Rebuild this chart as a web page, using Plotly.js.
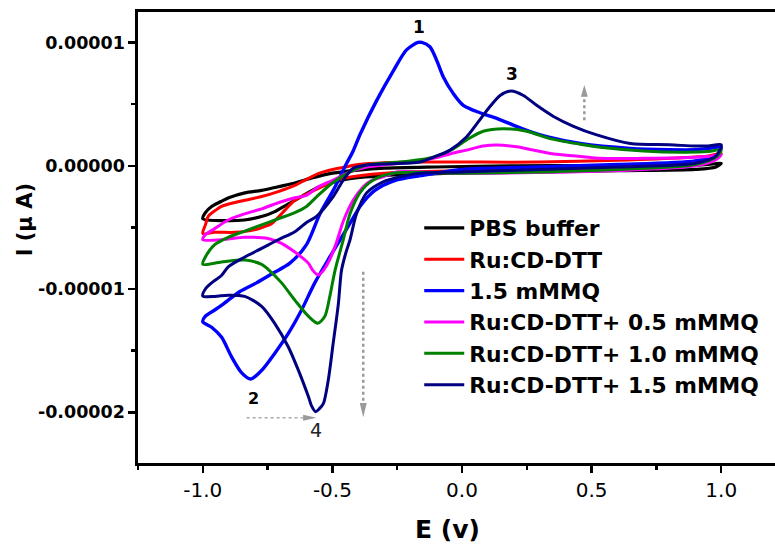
<!DOCTYPE html>
<html>
<head>
<meta charset="utf-8">
<script src="https://cdn.plot.ly/plotly-3.0.1.min.js"></script>
<style>
html,body{margin:0;padding:0;overflow:hidden;background:#fff;}
#chart{width:800px;height:548px;}
</style>
</head>
<body>
<div id="chart"></div>
<script>
// Current values are read in units of 1e-5 A
const UNIT = 1e-5;

const seriesNames = ["PBS buffer", "Ru:CD-DTT", "1.5 mMMQ", "Ru:CD-DTT+ 0.5 mMMQ", "Ru:CD-DTT+ 1.0 mMMQ", "Ru:CD-DTT+ 1.5 mMMQ"];

// PBS buffer (forward sweep then reverse sweep)
const pbsE = [-1.0,-0.99,-0.966,-0.93,-0.9,-0.838,-0.773,-0.709,-0.645,-0.58,-0.5,-0.4,-0.3,-0.1,0.2,0.5,0.8,0.95,1.0,
              0.98,0.9,0.6,0.3,0.0,-0.3,-0.45,-0.55,-0.62,-0.67,-0.72,-0.77,-0.84,-0.92,-1.0];
const pbsI = [-0.43,-0.38,-0.33,-0.29,-0.26,-0.22,-0.20,-0.17,-0.14,-0.10,-0.06,-0.035,-0.02,-0.01,0.0,0.0,0.0,0.01,0.02,
              -0.01,-0.03,-0.04,-0.05,-0.06,-0.08,-0.11,-0.17,-0.25,-0.31,-0.37,-0.41,-0.44,-0.445,-0.43];

// Ru:CD-DTT
const ruE = [-1.0,-0.99,-0.979,-0.95,-0.928,-0.88,-0.838,-0.773,-0.709,-0.645,-0.6,-0.55,-0.5,-0.45,-0.4,-0.3,-0.15,0.0,0.3,0.6,0.85,0.95,1.0,
             0.98,0.9,0.6,0.3,0.0,-0.3,-0.45,-0.52,-0.58,-0.645,-0.683,-0.71,-0.735,-0.77,-0.8,-0.876,-0.954,-1.0];
const ruI = [-0.55,-0.48,-0.41,-0.36,-0.33,-0.30,-0.28,-0.25,-0.21,-0.16,-0.11,-0.06,-0.03,-0.01,0.01,0.025,0.03,0.03,0.03,0.045,0.065,0.08,0.10,
             0.06,0.02,-0.01,-0.03,-0.04,-0.06,-0.10,-0.15,-0.21,-0.28,-0.36,-0.42,-0.47,-0.50,-0.52,-0.54,-0.54,-0.55];

// 1.5 mMMQ
const mmqE = [-1.0,-0.99,-0.954,-0.92,-0.857,-0.793,-0.728,-0.664,-0.6,-0.548,-0.497,-0.445,-0.42,-0.392,-0.329,-0.265,-0.214,-0.17,-0.155,-0.124,-0.098,-0.072,-0.034,0.005,0.069,0.134,0.198,0.263,0.327,0.456,0.649,0.8,0.9,0.95,1.0,
              0.98,0.9,0.6,0.3,0.0,-0.16,-0.26,-0.336,-0.39,-0.43,-0.47,-0.51,-0.568,-0.619,-0.67,-0.722,-0.773,-0.815,-0.85,-0.889,-0.928,-0.966,-1.0];
const mmqI = [-1.265,-1.22,-1.17,-1.12,-1.02,-0.95,-0.87,-0.79,-0.64,-0.39,-0.2,0.02,0.12,0.26,0.53,0.77,0.94,1.0,1.0,0.965,0.857,0.72,0.587,0.49,0.43,0.384,0.33,0.276,0.235,0.18,0.14,0.13,0.13,0.14,0.15,
              0.08,0.04,0.01,-0.01,-0.03,-0.08,-0.12,-0.20,-0.32,-0.46,-0.60,-0.74,-0.95,-1.17,-1.36,-1.52,-1.66,-1.73,-1.68,-1.55,-1.39,-1.31,-1.265];

// Ru:CD-DTT + 0.5 mMMQ
const m05E = [-1.0,-0.99,-0.954,-0.902,-0.838,-0.773,-0.709,-0.645,-0.6,-0.561,-0.497,-0.432,-0.368,-0.304,-0.24,-0.11,-0.04,0.018,0.082,0.134,0.211,0.275,0.34,0.468,0.533,0.7,0.85,0.95,1.0,
              0.98,0.9,0.7,0.4,0.0,-0.16,-0.252,-0.304,-0.35,-0.381,-0.42,-0.458,-0.484,-0.51,-0.535,-0.555,-0.575,-0.593,-0.62,-0.645,-0.696,-0.748,-0.838,-0.928,-1.0];
const m05I = [-0.60,-0.56,-0.51,-0.44,-0.39,-0.35,-0.30,-0.26,-0.24,-0.18,-0.116,-0.05,-0.01,0.006,0.02,0.06,0.10,0.127,0.16,0.168,0.154,0.127,0.10,0.073,0.06,0.06,0.065,0.075,0.09,
              0.05,0.0,-0.03,-0.05,-0.06,-0.05,-0.05,-0.09,-0.12,-0.17,-0.28,-0.45,-0.62,-0.76,-0.85,-0.886,-0.85,-0.79,-0.74,-0.70,-0.63,-0.59,-0.58,-0.60,-0.60];

// Ru:CD-DTT + 1.0 mMMQ
const m10E = [-1.0,-0.99,-0.954,-0.902,-0.838,-0.773,-0.709,-0.645,-0.6,-0.56,-0.5,-0.432,-0.368,-0.304,-0.24,-0.11,-0.04,0.018,0.082,0.16,0.25,0.34,0.468,0.533,0.7,0.85,0.95,1.0,
              0.98,0.9,0.6,0.3,0.0,-0.265,-0.342,-0.394,-0.432,-0.458,-0.49,-0.51,-0.529,-0.557,-0.593,-0.645,-0.696,-0.748,-0.773,-0.838,-0.928,-1.0];
const m10I = [-0.80,-0.74,-0.64,-0.58,-0.53,-0.48,-0.43,-0.38,-0.33,-0.25,-0.14,-0.05,0.006,0.02,0.03,0.07,0.13,0.21,0.28,0.30,0.28,0.22,0.17,0.15,0.12,0.11,0.115,0.13,
              0.07,0.01,-0.03,-0.05,-0.06,-0.06,-0.116,-0.22,-0.39,-0.60,-0.85,-1.06,-1.22,-1.278,-1.22,-1.09,-0.95,-0.84,-0.80,-0.765,-0.78,-0.80];

// Ru:CD-DTT + 1.5 mMMQ
const m15E = [-1.0,-0.99,-0.966,-0.928,-0.902,-0.838,-0.773,-0.709,-0.645,-0.6,-0.561,-0.497,-0.458,-0.42,-0.368,-0.304,-0.162,-0.11,-0.046,0.018,0.057,0.108,0.147,0.189,0.237,0.288,0.353,0.43,0.52,0.649,0.8,0.9,0.95,1.0,
              0.98,0.9,0.6,0.3,0.0,-0.162,-0.24,-0.304,-0.368,-0.407,-0.432,-0.45,-0.465,-0.477,-0.497,-0.516,-0.535,-0.55,-0.565,-0.58,-0.593,-0.631,-0.67,-0.722,-0.773,-0.838,-0.902,-0.954,-1.0];
const m15I = [-1.057,-1.0,-0.95,-0.89,-0.82,-0.74,-0.67,-0.60,-0.535,-0.46,-0.41,-0.25,-0.116,-0.02,0.006,0.014,0.03,0.07,0.127,0.235,0.34,0.48,0.57,0.606,0.57,0.49,0.40,0.32,0.25,0.18,0.17,0.16,0.16,0.17,
              0.08,0.02,-0.01,-0.03,-0.05,-0.06,-0.09,-0.13,-0.22,-0.39,-0.60,-0.72,-0.85,-1.12,-1.44,-1.74,-1.93,-1.97,-1.995,-1.95,-1.87,-1.66,-1.47,-1.28,-1.14,-1.06,-1.05,-1.06,-1.057];

const seriesE = [pbsE, ruE, mmqE, m05E, m10E, m15E];
const seriesI = [pbsI, ruI, mmqI, m05I, m10I, m15I];
const seriesColors = ["#000000", "#ff0000", "#0000ff", "#ff00ff", "#008000", "#000080"];
const seriesWidths = [3.2, 3, 3.4, 3, 3, 3];

const xTickVals = [-1.0, -0.5, 0.0, 0.5, 1.0];
const xTickText = ["-1.0", "-0.5", "0.0", "0.5", "1.0"];
const yTickVals = [1e-5, 0, -1e-5, -2e-5];
const yTickText = ["0.00001", "0.00000", "-0.00001", "-0.00002"];

const traces = seriesNames.map((name, k) => ({
  type: "scatter",
  mode: "lines",
  name: name,
  x: seriesE[k],
  y: seriesI[k].map(v => v * UNIT),
  line: {color: seriesColors[k], width: seriesWidths[k], shape: "spline", smoothing: 0.8}
}));

const FONT = "DejaVu Sans";
const gray = "#9a9a9a";

const layout = {
  width: 800, height: 548,
  margin: {l: 138, r: 14, t: 12, b: 85},
  paper_bgcolor: "#fff", plot_bgcolor: "#fff",
  showlegend: true,
  legend: {
    x: 0.434, y: 0.567, xanchor: "left", yanchor: "top",
    bgcolor: "rgba(0,0,0,0)", borderwidth: 0,
    font: {family: FONT, size: 21.8, color: "#000", weight: "bold"},
    itemwidth: 40, tracegroupgap: 0
  },
  xaxis: {
    range: [-1.25, 1.25], showgrid: false, zeroline: false,
    showline: true, linecolor: "#000", linewidth: 2.6, mirror: true,
    ticks: "outside", ticklen: 7, tickwidth: 2.4, tickcolor: "#000",
    tickmode: "array", tickvals: xTickVals, ticktext: xTickText,
    tickfont: {family: FONT, size: 20, color: "#000"},
    minor: {tickmode: "linear", tick0: 0, dtick: 0.25, ticks: "outside", ticklen: 4, tickwidth: 2.4, tickcolor: "#000"}
  },
  yaxis: {
    range: [-2.411e-5, 1.247e-5], showgrid: false, zeroline: false,
    showline: true, linecolor: "#000", linewidth: 2.6, mirror: true,
    ticks: "outside", ticklen: 7, tickwidth: 2.4, tickcolor: "#000",
    tickmode: "array", tickvals: yTickVals, ticktext: yTickText,
    tickfont: {family: FONT, size: 17.5, color: "#000", weight: "bold"},
    minor: {tickmode: "linear", tick0: 0, dtick: 5e-6, ticks: "outside", ticklen: 4, tickwidth: 2.4, tickcolor: "#000"}
  },
  annotations: [
    {xref: "paper", yref: "paper", x: 0.477, y: -0.147, xanchor: "center", yanchor: "middle", showarrow: false,
     text: "E (v)", font: {family: FONT, size: 25, color: "#000", weight: "bold"}},
    {xref: "paper", yref: "paper", x: -0.173, y: 0.54, xanchor: "center", yanchor: "middle", showarrow: false,
     textangle: -90, text: "I (μ A)", font: {family: FONT, size: 21, color: "#000", weight: "bold"}},
    {xref: "x", yref: "y", x: -0.164, y: 1.127e-5, showarrow: false, text: "1",
     font: {family: FONT, size: 17, color: "#000", weight: "bold"}},
    {xref: "x", yref: "y", x: 0.192, y: 0.746e-5, showarrow: false, text: "3",
     font: {family: FONT, size: 17, color: "#000", weight: "bold"}},
    {xref: "x", yref: "y", x: -0.803, y: -1.89e-5, showarrow: false, text: "2",
     font: {family: FONT, size: 16, color: "#000", weight: "bold"}},
    {xref: "x", yref: "y", x: -0.564, y: -2.146e-5, showarrow: false, text: "4",
     font: {family: FONT, size: 19, color: "#222"}}
  ],
  shapes: [
    // up arrow
    {type: "line", xref: "x", yref: "y", x0: 0.472, x1: 0.472, y0: 0.37e-5, y1: 0.57e-5, line: {color: gray, width: 2.5, dash: "dot"}},
    {type: "path", xref: "x", yref: "y", path: "M 0.4585 5.6e-6 L 0.4855 5.6e-6 L 0.472 6.55e-6 Z", fillcolor: gray, line: {width: 0}},
    // down arrow
    {type: "line", xref: "x", yref: "y", x0: -0.381, x1: -0.381, y0: -0.86e-5, y1: -1.93e-5, line: {color: gray, width: 2.5, dash: "dot"}},
    {type: "path", xref: "x", yref: "y", path: "M -0.3945 -1.925e-5 L -0.3675 -1.925e-5 L -0.381 -2.04e-5 Z", fillcolor: gray, line: {width: 0}},
    // horizontal arrow
    {type: "line", xref: "x", yref: "y", x0: -0.831, x1: -0.613, y0: -2.044e-5, y1: -2.044e-5, line: {color: "#aaaaaa", width: 1.6, dash: "dot"}},
    {type: "path", xref: "x", yref: "y", path: "M -0.613 -2.02e-5 L -0.613 -2.068e-5 L -0.561 -2.044e-5 Z", fillcolor: gray, line: {width: 0}}
  ]
};

Plotly.newPlot("chart", traces, layout, {displayModeBar: false, staticPlot: true});
</script>
</body>
</html>
